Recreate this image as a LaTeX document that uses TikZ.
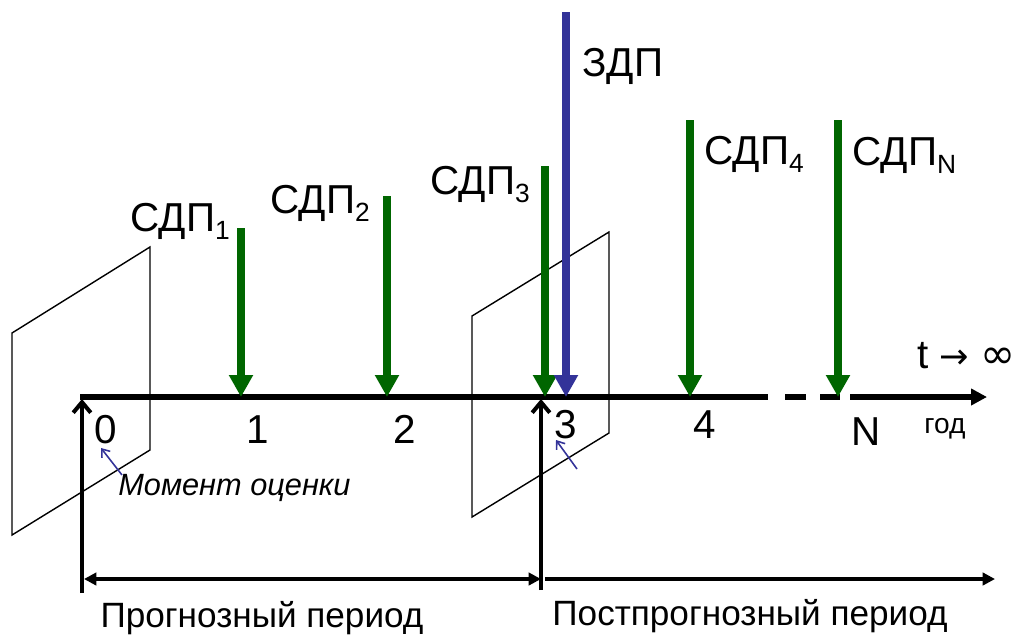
\documentclass[tikz,border=0pt]{standalone}
\usepackage{fontspec}
\setmainfont{Liberation Sans}
\newfontfamily\symbfont{DejaVu Sans}
\usetikzlibrary{arrows.meta,positioning,calc}

\definecolor{cashgreen}{RGB}{0,102,0}
\definecolor{termblue}{RGB}{51,51,153}

\newcommand{\lowidx}[1]{\raisebox{-5pt}{\fontsize{15}{15}\selectfont #1}}

\begin{document}
\begin{tikzpicture}[
    x=0.02cm, y=-0.02cm,
    every node/.style={
        inner sep=0pt,
        font=\fontsize{23}{26}\selectfont
    },
    plane/.style={
        draw=black,
        line width=0.8pt
    },
    axis/.style={
        draw=black,
        line width=3.4pt
    },
    flow/.style={
        draw=cashgreen,
        line width=4.2pt,
        -{Triangle[length=12.5pt,width=13pt]}
    },
    terminal/.style={
        draw=termblue,
        line width=4.2pt,
        -{Triangle[length=12.5pt,width=13pt]}
    },
    marker/.style={
        draw=black,
        line width=2.3pt,
        -{Straight Barb[length=6pt,width=10pt]}
    },
    span/.style={
        draw=black,
        line width=2.3pt
    },
    pointer/.style={
        draw=termblue,
        line width=0.9pt,
        -{Straight Barb[length=4pt,width=6pt]}
    },
    tick/.style={
        anchor=base
    }
]

\useasboundingbox (0,0) rectangle (1023,636);

% ============================================================
% Planes
% ============================================================

\draw[plane] (12,333) -- (150,247) -- (150,450) -- (12,535) -- cycle;
\draw[plane] (472,316) -- (609,232) -- (609,433) -- (472,517) -- cycle;

% ============================================================
% Time axis
% ============================================================

\coordinate (origin) at (80,397);
\coordinate (gapstart) at (768,397);
\coordinate (axisend) at (987,397);

\draw[axis] (origin) -- (gapstart);
\draw[axis] (785,397) -- (806,397);
\draw[axis] (820,397) -- (840,397);
\draw[axis, -{Triangle[length=9pt,width=9pt]}] (850,397) -- (axisend);

\node[anchor=base west] (limit) at (917,368)
{t {\symbfont\fontsize{20}{22}\selectfont →} {\symbfont\fontsize{24}{26}\selectfont ∞}};

% Year labels
\node[tick] (y0) at (106,443) {0};
\node[tick] (y1) at (258,443) {1};
\node[tick] (y2) at (405,443) {2};
\node[tick] (y3) at (566,438) {3};
\node[tick] (y4) at (705,438) {4};
\node[tick] (yN) at (866,445) {N};
\node[tick, font=\fontsize{16}{18}\selectfont] (year) at (945,433) {год};

% ============================================================
% Cash flows
% ============================================================

\coordinate (p1) at (241,397);
\coordinate (p2) at (387,397);
\coordinate (p3) at (545,397);
\coordinate (p4) at (690,397);
\coordinate (pN) at (838,397);
\coordinate (pT) at (566,397);

\draw[flow] (241,228) -- (p1);
\draw[flow] (387,196) -- (p2);
\draw[flow] (545,166) -- (p3);
\draw[flow] (690,120) -- (p4);
\draw[flow] (838,120) -- (pN);
\draw[terminal] (566,12) -- (pT);

\node[anchor=base west] (cf1) at (130,231) {СДП\lowidx{1}};
\node[anchor=base west] (cf2) at (270,213) {СДП\lowidx{2}};
\node[anchor=base west] (cf3) at (430,194) {СДП\lowidx{3}};
\node[anchor=base west] (cf4) at (704,164) {СДП\lowidx{4}};
\node[anchor=base west] (cfN) at (852,165) {СДП\lowidx{N}};
\node[anchor=base west] (tv) at (582,76) {ЗДП};

% ============================================================
% Valuation moments
% ============================================================

\coordinate (m0) at (82,399);
\coordinate (m3) at (541,399);
\coordinate (b0) at (82,593);
\coordinate (b3) at (541,590);

\draw[marker] (b0) -- (m0);
\draw[marker] (b3) -- (m3);

\node[anchor=base west, font=\fontsize{17.5}{20}\selectfont\itshape]
(moment) at (118,495) {Момент оценки};

\draw[pointer] (122,475) -- (101,448);
\draw[pointer] (577,469) -- (556,440);

% ============================================================
% Periods
% ============================================================

\coordinate (s0) at (84,579);
\coordinate (s3) at (541,579);
\coordinate (s4) at (545,579);
\coordinate (sEnd) at (995,579);

\draw[span, {Triangle[length=7pt,width=7pt]}-{Triangle[length=7pt,width=7pt]}]
(s0) -- (s3);
\draw[span, -{Triangle[length=7pt,width=7pt]}]
(s4) -- (sEnd);

\node[tick, font=\fontsize{20}{22}\selectfont] (forecast) at (262,627)
{Прогнозный период};
\node[tick, font=\fontsize{20}{22}\selectfont] (postforecast) at (750,625)
{Постпрогнозный период};

\end{tikzpicture}
\end{document}
